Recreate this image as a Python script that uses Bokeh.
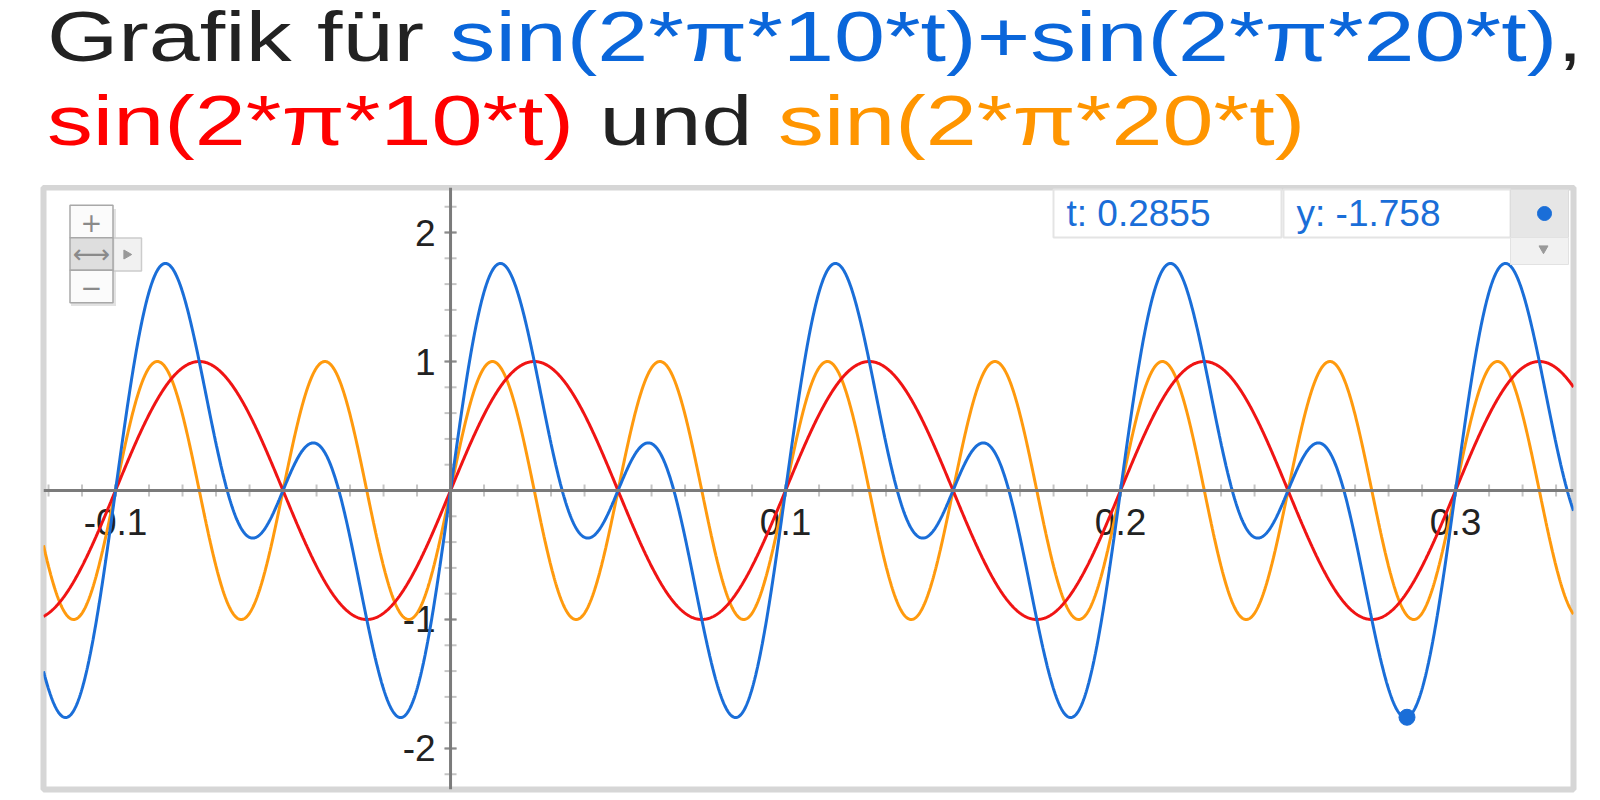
import numpy as np
from bokeh.plotting import figure
from bokeh.models import Range1d, Span, Div
from bokeh.layouts import column
from bokeh.embed import file_html
from bokeh.resources import INLINE
from bokeh.core.properties import value

# ---------------- data (functions named in the chart's title) ----------------
freq_a = 10            # sin(2*pi*10*t)
freq_b = 20            # sin(2*pi*20*t)
t_start, t_end = -0.1215, 0.3352
y_low, y_high = -2.318, 2.349
x_tick_values = [-0.1, 0.1, 0.2, 0.3]
x_tick_labels = ["-0.1", "0.1", "0.2", "0.3"]
y_tick_values = [-2, -1, 1, 2]
y_tick_labels = ["-2", "-1", "1", "2"]
x_minor_ticks = [round(-0.12 + 0.01 * i, 2) for i in range(46)]
y_minor_ticks = [round(-2.2 + 0.2 * i, 1) for i in range(23)]
cursor_t = [0.2855]
cursor_y = [-1.758]

t_values = np.linspace(t_start, t_end, 3000)
y_10 = np.sin(2 * np.pi * freq_a * t_values)
y_20 = np.sin(2 * np.pi * freq_b * t_values)
y_sum = y_10 + y_20

BLUE = "#1a6ed8"
RED = "#f01414"
ORANGE = "#ff9a0e"
FONT = value("Liberation Sans")

# ---------------- title ----------------
title_html = (
    '<div style="font-family:\'Liberation Sans\',Arial,sans-serif;font-size:70px;'
    'line-height:84px;color:#222222;white-space:nowrap;transform:scaleX(1.31);'
    'transform-origin:0 0;margin-left:42px;margin-top:-10px;">'
    'Grafik für <span style="color:#0a66da">sin(2*π*10*t)+sin(2*π*20*t)</span>,<br>'
    '<span style="color:#ff0000">sin(2*π*10*t)</span> und '
    '<span style="color:#ff9500">sin(2*π*20*t)</span></div>'
)
title = Div(text=title_html, width=1584, height=175)

# ---------------- figure ----------------
p = figure(width=1584, height=609,
           x_range=Range1d(t_start, t_end), y_range=Range1d(y_low, y_high),
           output_backend="svg", toolbar_location=None,
           x_axis_location=None, y_axis_location=None,
           min_border_left=43, min_border_right=11,
           min_border_top=2, min_border_bottom=5)
p.xgrid.grid_line_color = None
p.ygrid.grid_line_color = None
p.outline_line_color = "#d6d6d6"
p.outline_line_width = 6
p.background_fill_color = "white"
p.border_fill_color = "white"

# axis lines
p.add_layout(Span(location=0, dimension="width", line_color="#7b7b7b", line_width=3))
p.add_layout(Span(location=0, dimension="height", line_color="#7b7b7b", line_width=3))

# ticks
p.scatter(x=x_minor_ticks, y=[0] * len(x_minor_ticks), marker="dash", size=12,
          angle=np.pi / 2, line_color="#c4c4c4", line_width=2)
p.scatter(x=[0] * len(y_minor_ticks), y=y_minor_ticks, marker="dash", size=12,
          line_color="#c4c4c4", line_width=2)
p.scatter(x=x_tick_values, y=[0] * len(x_tick_values), marker="dash", size=12,
          angle=np.pi / 2, line_color="#8a8a8a", line_width=2)
p.scatter(x=[0] * len(y_tick_values), y=y_tick_values, marker="dash", size=12,
          line_color="#8a8a8a", line_width=2)

# tick labels
p.text(x=x_tick_values, y=[0] * len(x_tick_values), text=x_tick_labels,
       text_align="center", text_baseline="middle", y_offset=32,
       text_font=FONT, text_font_size="37px", text_color="#222222")
p.text(x=[0] * len(y_tick_values), y=y_tick_values, text=y_tick_labels,
       text_align="right", text_baseline="middle", x_offset=-15,
       text_font=FONT, text_font_size="37px", text_color="#222222")

# curves
p.line(t_values, y_20, line_color=ORANGE, line_width=3)
p.line(t_values, y_10, line_color=RED, line_width=3)
p.line(t_values, y_sum, line_color=BLUE, line_width=3)

# cursor point
p.scatter(cursor_t, cursor_y, size=16, fill_color=BLUE, line_color=BLUE)


# ---------------- widget decorations (pixel positions of UI chrome) ----------------
def dx(px):
    return t_start + (px - 43) / 1530 * (t_end - t_start)


def dy(py):
    return y_high - (py - 185) / 602 * (y_high - y_low)


# readout panel
p.rect(x=[dx(1167), dx(1396.5)], y=[dy(211)] * 2, width=[228, 227], height=48,
       width_units="screen", height_units="screen",
       fill_color="white", line_color="#e4e4e4", line_width=2)
p.rect(x=[dx(1539)], y=[dy(211)], width=58, height=48,
       width_units="screen", height_units="screen",
       fill_color="#e6e6e6", line_color="#dcdcdc", line_width=1)
p.rect(x=[dx(1539)], y=[dy(248.5)], width=58, height=27,
       width_units="screen", height_units="screen",
       fill_color="#f1f1f1", line_color="#e2e2e2", line_width=1)
p.scatter([dx(1544)], [dy(211)], size=14, fill_color=BLUE, line_color=BLUE)
p.scatter([dx(1543)], [dy(246)], marker="inverted_triangle", size=9,
          fill_color="#9a9a9a", line_color="#9a9a9a")
p.text(x=[dx(1066), dx(1296)], y=[dy(211)] * 2,
       text=[f"t: {cursor_t[0]}", f"y: {cursor_y[0]}"],
       text_align="left", text_baseline="middle",
       text_font=FONT, text_font_size="37px", text_color=BLUE)

# zoom control
p.rect(x=[dx(93)], y=[dy(255)], width=45, height=97,
       width_units="screen", height_units="screen",
       fill_color="#cfcfcf", line_color=None, fill_alpha=0.6)
p.rect(x=[dx(127)], y=[dy(252)], width=28, height=33,
       width_units="screen", height_units="screen",
       fill_color="#f1f1f1", line_color="#cccccc", line_width=1.5)
p.rect(x=[dx(91), dx(91), dx(91)], y=[dy(219), dy(251.5), dy(284)],
       width=43, height=32.5, width_units="screen", height_units="screen",
       fill_color=["#fbfbfb", "#dedede", "#fbfbfb"], line_color="#a8a8a8", line_width=1.5)
p.text(x=[dx(91), dx(91), dx(91)], y=[dy(219), dy(251.5), dy(284)],
       text=["+", "⟷", "−"], text_align="center", text_baseline="middle",
       text_font=value("DejaVu Sans"), text_font_size="26px", text_color="#8a8a8a")
p.scatter([dx(126)], [dy(252)], marker="triangle", angle=-np.pi / 2, size=9,
          fill_color="#999999", line_color="#999999")

layout = column(title, p)
open("out.html", "w").write(file_html(layout, INLINE))
